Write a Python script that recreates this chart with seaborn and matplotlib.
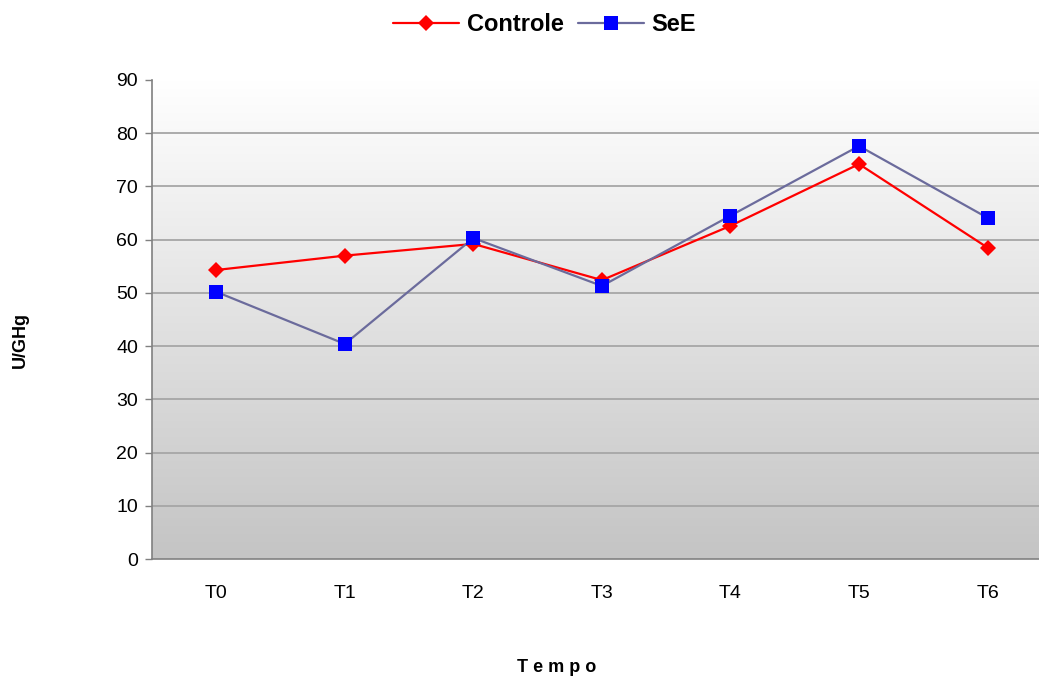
import numpy as np
import pandas as pd
import matplotlib
matplotlib.use("Agg")
import matplotlib.pyplot as plt
import seaborn as sns
from matplotlib.colors import LinearSegmentedColormap

categories = ["T0", "T1", "T2", "T3", "T4", "T5", "T6"]
controle = [54.3, 57.0, 59.2, 52.4, 62.6, 74.2, 58.5]
see = [50.2, 40.4, 60.3, 51.3, 64.5, 77.6, 64.1]
yticks = [0, 10, 20, 30, 40, 50, 60, 70, 80, 90]

sns.set_theme(style="white")
plt.rcParams['font.family'] = ['Liberation Sans', 'DejaVu Sans']
plt.rcParams['text.color'] = 'black'
plt.rcParams['xtick.color'] = 'black'
plt.rcParams['ytick.color'] = 'black'

df = pd.DataFrame({
    "Tempo": categories * 2,
    "pos": list(range(len(categories))) * 2,
    "U/GHg": controle + see,
    "Serie": ["Controle"] * len(categories) + ["SeE"] * len(categories),
})

fig = plt.figure(figsize=(10.39, 6.84), dpi=100)
ax = fig.add_axes([152/1039, 1 - 559/684, 1 - 152/1039, (559 - 80)/684])

# gradient background (white at top, grey at bottom)
cmap = LinearSegmentedColormap.from_list("bg", ["#ffffff", "#c4c4c4"])
grad = np.linspace(0, 1, 256).reshape(-1, 1)
ax.imshow(grad, cmap=cmap, aspect="auto", extent=[-0.5, 6.4, 0, 90],
          origin="upper", zorder=0)

for y in yticks[1:-1]:
    ax.axhline(y, color="#a6a6a6", lw=1.3, zorder=1)

sub_c = df[df.Serie == "Controle"]
sub_s = df[df.Serie == "SeE"]
sns.lineplot(data=sub_c, x="pos", y="U/GHg", ax=ax, color="#ff0000", lw=1.6,
             marker="D", markersize=8, markeredgewidth=0, label="Controle", zorder=3)
sns.lineplot(data=sub_s, x="pos", y="U/GHg", ax=ax, color="#6b6b9c", lw=1.6,
             marker="s", markersize=10, markerfacecolor="#0000ff", markeredgewidth=0,
             label="SeE", zorder=3)

ax.set_xlim(-0.5, 6.4)
ax.set_ylim(0, 90)
ax.set_yticks(yticks)
ax.set_xticks(range(len(categories)))
ax.set_xticklabels(categories)
ax.tick_params(axis="y", length=5, width=1, color="#808080", labelcolor="black",
               direction="out", left=True, labelsize=14, pad=5)
ax.tick_params(axis="x", length=0, labelsize=14, labelcolor="black", pad=19)
for s in ["top", "right"]:
    ax.spines[s].set_visible(False)
ax.spines["left"].set_color("#808080")
ax.spines["bottom"].set_color("#808080")
ax.spines["left"].set_linewidth(1.2)
ax.spines["bottom"].set_linewidth(1.2)

ax.set_xlabel("")
ax.set_ylabel("")
fig.text(557/1039, 1 - 668/684, "T e m p o", ha="center", va="center",
         fontsize=13, fontweight="bold", color="black")
fig.text(20/1039, 1 - 340/684, "U/GHg", ha="center", va="center", rotation=90,
         fontsize=13, fontweight="bold", color="black")

leg = ax.legend(loc="upper center",
                bbox_to_anchor=(0.5 - (152/1039)/2/(1 - 152/1039) + 0.028, 1 + 76/479),
                ncol=2, frameon=False, prop={"weight": "bold", "size": 17},
                handlelength=2.8, columnspacing=0.6, handletextpad=0.3, borderaxespad=0)
for t in leg.get_texts():
    t.set_color("black")

fig.savefig("out.png", dpi=100)
